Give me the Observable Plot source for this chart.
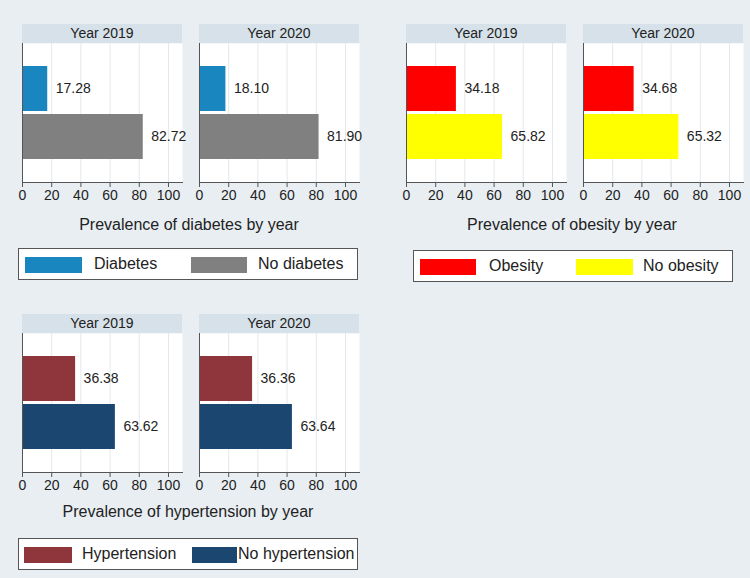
<!DOCTYPE html>
<html><head><meta charset="utf-8">
<script src="https://cdn.jsdelivr.net/npm/d3@7"></script>
<script src="https://cdn.jsdelivr.net/npm/@observablehq/plot@0.6"></script>
<style>
body{margin:0;background:#e8eef2;font-family:"Liberation Sans",Arial,sans-serif;}
#root{position:relative;width:750px;height:578px;overflow:hidden;background:#e8eef2;}
.hdr{position:absolute;height:19px;width:160px;background:#d6e1e9;color:#222;font-size:14px;line-height:19px;text-align:center;}
.ttl{position:absolute;font-size:16px;color:#222;text-align:center;white-space:nowrap;transform:translateX(-50%);line-height:18px;}
.leg{position:absolute;border:1px solid #555;background:#fff;box-sizing:border-box;height:32px;}
.sw{position:absolute;top:8px;height:16px;}
.lab{position:absolute;top:5px;font-size:16px;line-height:20px;color:#222;white-space:nowrap;}
.fp{position:absolute;}
.fp svg{overflow:visible;max-width:none !important;}
</style></head>
<body><div id="root"></div>
<script>
// ---- data ----
const years = ["Year 2019", "Year 2020"];
const xTicks = [0, 20, 40, 60, 80, 100];

const diabetesCats = ["Diabetes", "No diabetes"];
const diabetes2019 = [17.28, 82.72];
const diabetes2020 = [18.10, 81.90];

const obesityCats = ["Obesity", "No obesity"];
const obesity2019 = [34.18, 65.82];
const obesity2020 = [34.68, 65.32];

const hypertensionCats = ["Hypertension", "No hypertension"];
const hypertension2019 = [36.38, 63.62];
const hypertension2020 = [36.36, 63.64];

const titles = ["Prevalence of diabetes by year", "Prevalence of obesity by year", "Prevalence of hypertension by year"];

// ---- styles / layout ----
const panels = [
  {cats: diabetesCats, vals: [diabetes2019, diabetes2020], colors: ["#1a86bf", "#808080"], title: titles[0],
   fx: [22, 199], top: 43, titleX: 189, titleY: 216,
   leg: {x: 18, y: 248, w: 340, sw: [[6, 57], [172, 56]], lab: [75, 239]}},
  {cats: obesityCats, vals: [obesity2019, obesity2020], colors: ["#ff0000", "#ffff00"], title: titles[1],
   fx: [406, 583], top: 43, titleX: 572, titleY: 216,
   leg: {x: 413, y: 250, w: 320, sw: [[6, 56], [162, 57]], lab: [75, 229]}},
  {cats: hypertensionCats, vals: [hypertension2019, hypertension2020], colors: ["#8f353c", "#1b466f"], title: titles[2],
   fx: [22, 199], top: 333, titleX: 188, titleY: 503,
   leg: {x: 18, y: 538, w: 340, sw: [[5, 48], [173, 45]], lab: [63, 219]}}
];

const ML = 14, MR = 26, MB = 30, PW = 160, PH = 139;
const root = document.getElementById("root");

function facetPlot(cats, values, colors) {
  const data = cats.map((c, i) => ({cat: c, value: values[i]}));
  return Plot.plot({
    width: ML + PW + MR, height: PH + MB,
    marginLeft: ML, marginRight: MR, marginTop: 0, marginBottom: MB,
    style: {background: "transparent", fontFamily: "'Liberation Sans', Arial, sans-serif", fontSize: "14px", color: "#222", overflow: "visible", maxWidth: "none"},
    x: {domain: [0, 109.6], label: null},
    y: {domain: cats, paddingInner: 0.0625, paddingOuter: 0.479, axis: null},
    color: {domain: cats, range: colors},
    marks: [
      Plot.frame({fill: "white", stroke: "none"}),
      Plot.gridX(xTicks.slice(1), {stroke: "#e4e8ec", strokeOpacity: 1}),
      Plot.barX(data, {x: "value", y: "cat", fill: "cat", inset: 0}),
      Plot.text(data, {x: "value", y: "cat", text: d => d.value.toFixed(2), textAnchor: "start", dx: 8, fill: "#222", fontSize: 14}),
      Plot.axisX({ticks: xTicks, tickSize: 5, tickPadding: 3, label: null, stroke: "#555", fill: "#222", fontSize: 14}),
      Plot.frame({anchor: "left", stroke: "#555"}),
      Plot.frame({anchor: "bottom", stroke: "#555"})
    ]
  });
}

panels.forEach(p => {
  p.fx.forEach((fx, k) => {
    const h = document.createElement("div");
    h.className = "hdr";
    h.style.left = fx + "px";
    h.style.top = (p.top - 19) + "px";
    h.textContent = years[k];
    root.appendChild(h);
    const d = document.createElement("div");
    d.className = "fp";
    d.style.left = (fx - ML) + "px";
    d.style.top = p.top + "px";
    d.style.width = (ML + PW + MR) + "px";
    d.appendChild(facetPlot(p.cats, p.vals[k], p.colors));
    root.appendChild(d);
  });
  const t = document.createElement("div");
  t.className = "ttl";
  t.style.left = p.titleX + "px";
  t.style.top = p.titleY + "px";
  t.textContent = p.title;
  root.appendChild(t);
  const L = document.createElement("div");
  L.className = "leg";
  L.style.left = p.leg.x + "px";
  L.style.top = p.leg.y + "px";
  L.style.width = p.leg.w + "px";
  p.cats.forEach((c, i) => {
    const s = document.createElement("div");
    s.className = "sw";
    s.style.left = p.leg.sw[i][0] + "px";
    s.style.width = p.leg.sw[i][1] + "px";
    s.style.background = p.colors[i];
    L.appendChild(s);
    const l = document.createElement("div");
    l.className = "lab";
    l.style.left = p.leg.lab[i] + "px";
    l.textContent = c;
    L.appendChild(l);
  });
  root.appendChild(L);
});
</script></body></html>
